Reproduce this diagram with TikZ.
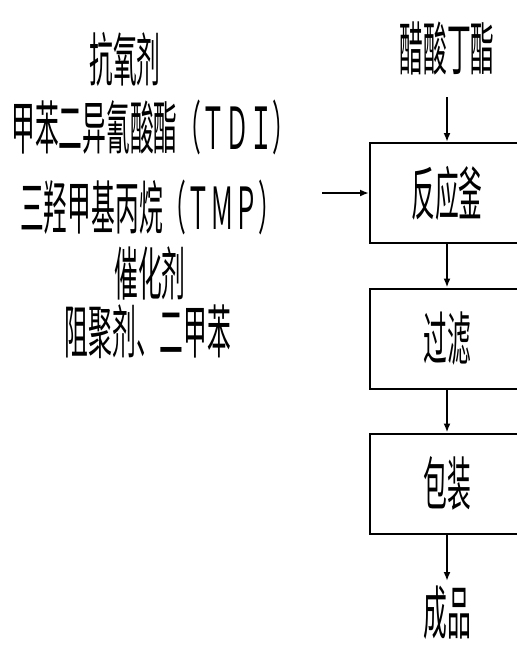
\documentclass[tikz,border=0pt]{standalone}
\usepackage{fontspec}
\usepackage{graphicx}
\newfontfamily\cjk{Noto Sans CJK SC}
\usetikzlibrary{arrows.meta}
\newcommand{\nar}[1]{\scalebox{0.41}[1]{#1}}
\tikzset{
  lbl/.style={inner sep=0pt, font=\cjk\fontsize{58}{58}\selectfont},
  procbox/.style={draw, line width=2pt, minimum width=154pt, minimum height=100pt, inner sep=0pt, font=\cjk\fontsize{58}{58}\selectfont},
  flow/.style={line width=1.8pt, -{Latex[length=9pt,width=7pt]}}
}
\begin{document}
\begin{tikzpicture}[x=1pt,y=-1pt]
\clip (0,0) rectangle (517,646);
\fill[white] (0,0) rectangle (517,646);
% left texts
\node[lbl] (t1) at (125,59) {\nar{抗氧剂}};
\node[lbl] (t2) at (154,127) {\nar{甲苯二异氰酸酯（ＴＤＩ）}};
\node[lbl] (t3) at (151,207) {\nar{三羟甲基丙烷（ＴＭＰ）}};
\node[lbl] (t4) at (150,273) {\nar{催化剂}};
\node[lbl] (t5) at (148,332) {\nar{阻聚剂、二甲苯}};
% right column
\node[lbl] (top) at (447,48) {\nar{醋酸丁酯}};
\node[procbox] (r1) at (447,193) {\nar{反应釜}};
\node[procbox] (r2) at (447,338.5) {\nar{过滤}};
\node[procbox] (r3) at (447,483.5) {\nar{包装}};
\node[lbl] (out) at (447,613) {\nar{成品}};
\coordinate (topin) at (447,97);
\coordinate (leftin) at (322,193);
\coordinate (outend) at (447,581);
\draw[flow] (topin) -- (r1.north);
\draw[flow] (leftin) -- (r1.west);
\draw[flow] (r1.south) -- (r2.north);
\draw[flow] (r2.south) -- (r3.north);
\draw[flow] (r3.south) -- (outend);
\end{tikzpicture}
\end{document}
